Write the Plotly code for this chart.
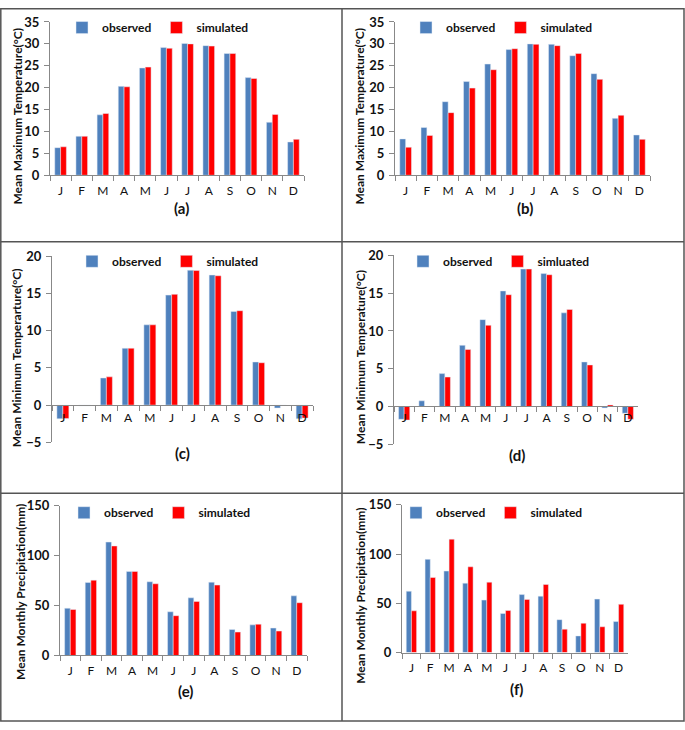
import plotly.graph_objects as go

W, H = 685, 730

months = ["Jan", "Feb", "Mar", "Apr", "May", "Jun", "Jul", "Aug", "Sep", "Oct", "Nov", "Dec"]
month_labels = ["J", "F", "M", "A", "M", "J", "J", "A", "S", "O", "N", "D"]

tmax_obs_a = [6.3, 8.9, 13.8, 20.3, 24.5, 29.2, 30.1, 29.6, 27.8, 22.3, 12.1, 7.6]
tmax_sim_a = [6.5, 8.9, 14.1, 20.2, 24.7, 29.0, 30.0, 29.5, 27.8, 22.1, 13.9, 8.2]
tmax_obs_b = [8.3, 10.9, 16.8, 21.4, 25.4, 28.7, 30.0, 29.9, 27.3, 23.2, 13.0, 9.2]
tmax_sim_b = [6.4, 9.1, 14.3, 19.9, 24.1, 28.9, 29.9, 29.6, 27.8, 21.9, 13.7, 8.2]
tmin_obs_c = [-1.85, -0.1, 3.65, 7.65, 10.8, 14.8, 18.15, 17.5, 12.6, 5.8, -0.4, -1.85]
tmin_sim_c = [-1.8, -0.1, 3.8, 7.65, 10.8, 14.9, 18.1, 17.4, 12.7, 5.7, -0.05, -1.75]
tmin_obs_d = [-1.7, 0.75, 4.35, 8.1, 11.5, 15.3, 18.2, 17.6, 12.4, 5.9, -0.2, -0.9]
tmin_sim_d = [-1.8, 0.0, 3.9, 7.55, 10.75, 14.8, 18.2, 17.45, 12.85, 5.5, 0.2, -1.7]
prcp_obs_e = [47.4, 73.2, 113.7, 84.3, 73.9, 43.8, 57.8, 73.5, 26.1, 30.7, 27.5, 59.8]
prcp_sim_e = [46.1, 75.5, 109.8, 84.3, 71.9, 39.9, 54.2, 70.6, 23.5, 31.4, 24.5, 52.9]
prcp_obs_f = [62.3, 94.7, 82.8, 70.5, 53.3, 39.7, 58.9, 57.3, 33.4, 16.9, 54.3, 31.5]
prcp_sim_f = [42.4, 76.2, 115.2, 87.1, 71.5, 42.7, 54.0, 69.2, 23.8, 29.8, 26.2, 49.0]

BLUE = "#4F81BD"
RED = "#FF0000"
FONT = "Lato"


def px(x):
    return x / W


def py(y):
    return 1 - y / H


# panel: data, names, y range/dtick, axis box (pixels), legend pos, label pos, title pos
panels = [
    dict(obs=tmax_obs_a, sim=tmax_sim_a, sim_name="simulated", rng=[0, 35], dt=5,
         x0=50, x1=304, ytop=14.3, ybot=171, xline=None,
         leg=(62, 20), lab="(a)", labxy=(181, 204),
         title="Mean Maximum Temperature(°C)", txy=(18, 111)),
    dict(obs=tmax_obs_b, sim=tmax_sim_b, sim_name="simulated", rng=[0, 35], dt=5,
         x0=395, x1=650, ytop=14.3, ybot=171, xline=None,
         leg=(406, 20), lab="(b)", labxy=(525, 204),
         title="Mean Maximum Temperature(°C)", txy=(360, 111)),
    dict(obs=tmin_obs_c, sim=tmin_sim_c, sim_name="simulated", rng=[-5, 20], dt=5,
         x0=52, x1=313, ytop=254, ybot=444, xline=406,
         leg=(72, 259), lab="(c)", labxy=(183, 455),
         title="Mean Minimum Temperarture(°C)", txy=(16, 358)),
    dict(obs=tmin_obs_d, sim=tmin_sim_d, sim_name="simluated", rng=[-5, 20], dt=5,
         x0=394, x1=638, ytop=253, ybot=446, xline=407,
         leg=(403, 259), lab="(d)", labxy=(517, 457),
         title="Mean Minimum Temperature(°C)", txy=(360, 357)),
    dict(obs=prcp_obs_e, sim=prcp_sim_e, sim_name="simulated", rng=[0, 150], dt=50,
         x0=60, x1=307, ytop=509, ybot=662, xline=None,
         leg=(64, 516), lab="(e)", labxy=(185, 698),
         title="Mean Monthly Precipitation(mm)", txy=(21, 597)),
    dict(obs=prcp_obs_f, sim=prcp_sim_f, sim_name="simulated", rng=[0, 150], dt=50,
         x0=402, x1=628, ytop=508, ybot=659, xline=None,
         leg=(396, 516), lab="(f)", labxy=(516, 696),
         title="Mean Monthly Precipitation(mm)", txy=(361, 601)),
]

fig = go.Figure()
annotations = []
layout = {}

for i, p in enumerate(panels, start=1):
    sfx = "" if i == 1 else str(i)
    leg = "legend" if i == 1 else "legend%d" % i
    fig.add_trace(go.Bar(x=months, y=p["obs"], name="observed", marker_color=BLUE,
                         xaxis="x" + sfx, yaxis="y" + sfx, legend=leg))
    fig.add_trace(go.Bar(x=months, y=p["sim"], name=p["sim_name"], marker_color=RED,
                         xaxis="x" + sfx, yaxis="y" + sfx, legend=leg))

    yb, yt = py(p["ybot"]), py(p["ytop"])
    xa = dict(domain=[px(p["x0"]), px(p["x1"])], type="category",
              categoryorder="array", categoryarray=months,
              tickvals=months, ticktext=month_labels, tickangle=0,
              tickson="boundaries", ticks="outside", ticklen=5, tickcolor="#888",
              showline=True, linecolor="#888", linewidth=1, showgrid=False,
              tickfont=dict(family=FONT, size=12, color="#111"),
              ticklabelstandoff=4)
    if p["xline"] is None:
        xa["anchor"] = "y" + sfx
    else:
        xa["anchor"] = "free"
        xa["position"] = py(p["xline"])
        xa["ticklabelstandoff"] = 1
    layout["xaxis" + sfx] = xa
    layout["yaxis" + sfx] = dict(domain=[yb, yt], anchor="x" + sfx, range=p["rng"],
                                 dtick=p["dt"], ticks="outside", ticklen=5, tickcolor="#888",
                                 showline=True, linecolor="#888", linewidth=1,
                                 showgrid=False, zeroline=False,
                                 tickfont=dict(family=FONT, size=13, color="#111", weight="bold"),
                                 ticklabelstandoff=2)
    layout[leg] = dict(orientation="h", x=px(p["leg"][0]), y=py(p["leg"][1]),
                       xanchor="left", yanchor="middle", bgcolor="rgba(0,0,0,0)",
                       font=dict(family=FONT, size=12, color="#111", weight="bold"),
                       itemwidth=30)
    annotations.append(dict(text=p["lab"], x=px(p["labxy"][0]), y=py(p["labxy"][1]),
                            xref="paper", yref="paper", showarrow=False,
                            xanchor="center", yanchor="middle",
                            font=dict(family=FONT, size=15, color="#111", weight="bold")))
    annotations.append(dict(text=p["title"], x=px(p["txy"][0]), y=py(p["txy"][1]),
                            xref="paper", yref="paper", showarrow=False, textangle=-90,
                            xanchor="center", yanchor="middle",
                            font=dict(family=FONT, size=12, color="#111", weight="bold")))

# frame lines of the 2x3 panel grid
border = dict(color="#555", width=1.5)
shapes = [
    dict(type="rect", xref="paper", yref="paper", x0=px(0.8), x1=px(684), y0=py(729), y1=py(0.8), line=border),
    dict(type="line", xref="paper", yref="paper", x0=px(342), x1=px(342), y0=py(729), y1=py(0.8), line=border),
    dict(type="line", xref="paper", yref="paper", x0=px(0.8), x1=px(684), y0=py(239), y1=py(239), line=border),
    dict(type="line", xref="paper", yref="paper", x0=px(0.8), x1=px(684), y0=py(496), y1=py(496), line=border),
]

fig.update_layout(**layout)
fig.update_layout(
    width=W, height=H, margin=dict(l=0, r=0, t=0, b=0),
    paper_bgcolor="white", plot_bgcolor="white",
    barmode="group", bargap=0.45, bargroupgap=0,
    annotations=annotations, shapes=shapes,
    font=dict(family=FONT, color="#111"),
)

fig.write_html("out.html", config={"displayModeBar": False},
               post_script="document.body.style.margin='0';")
